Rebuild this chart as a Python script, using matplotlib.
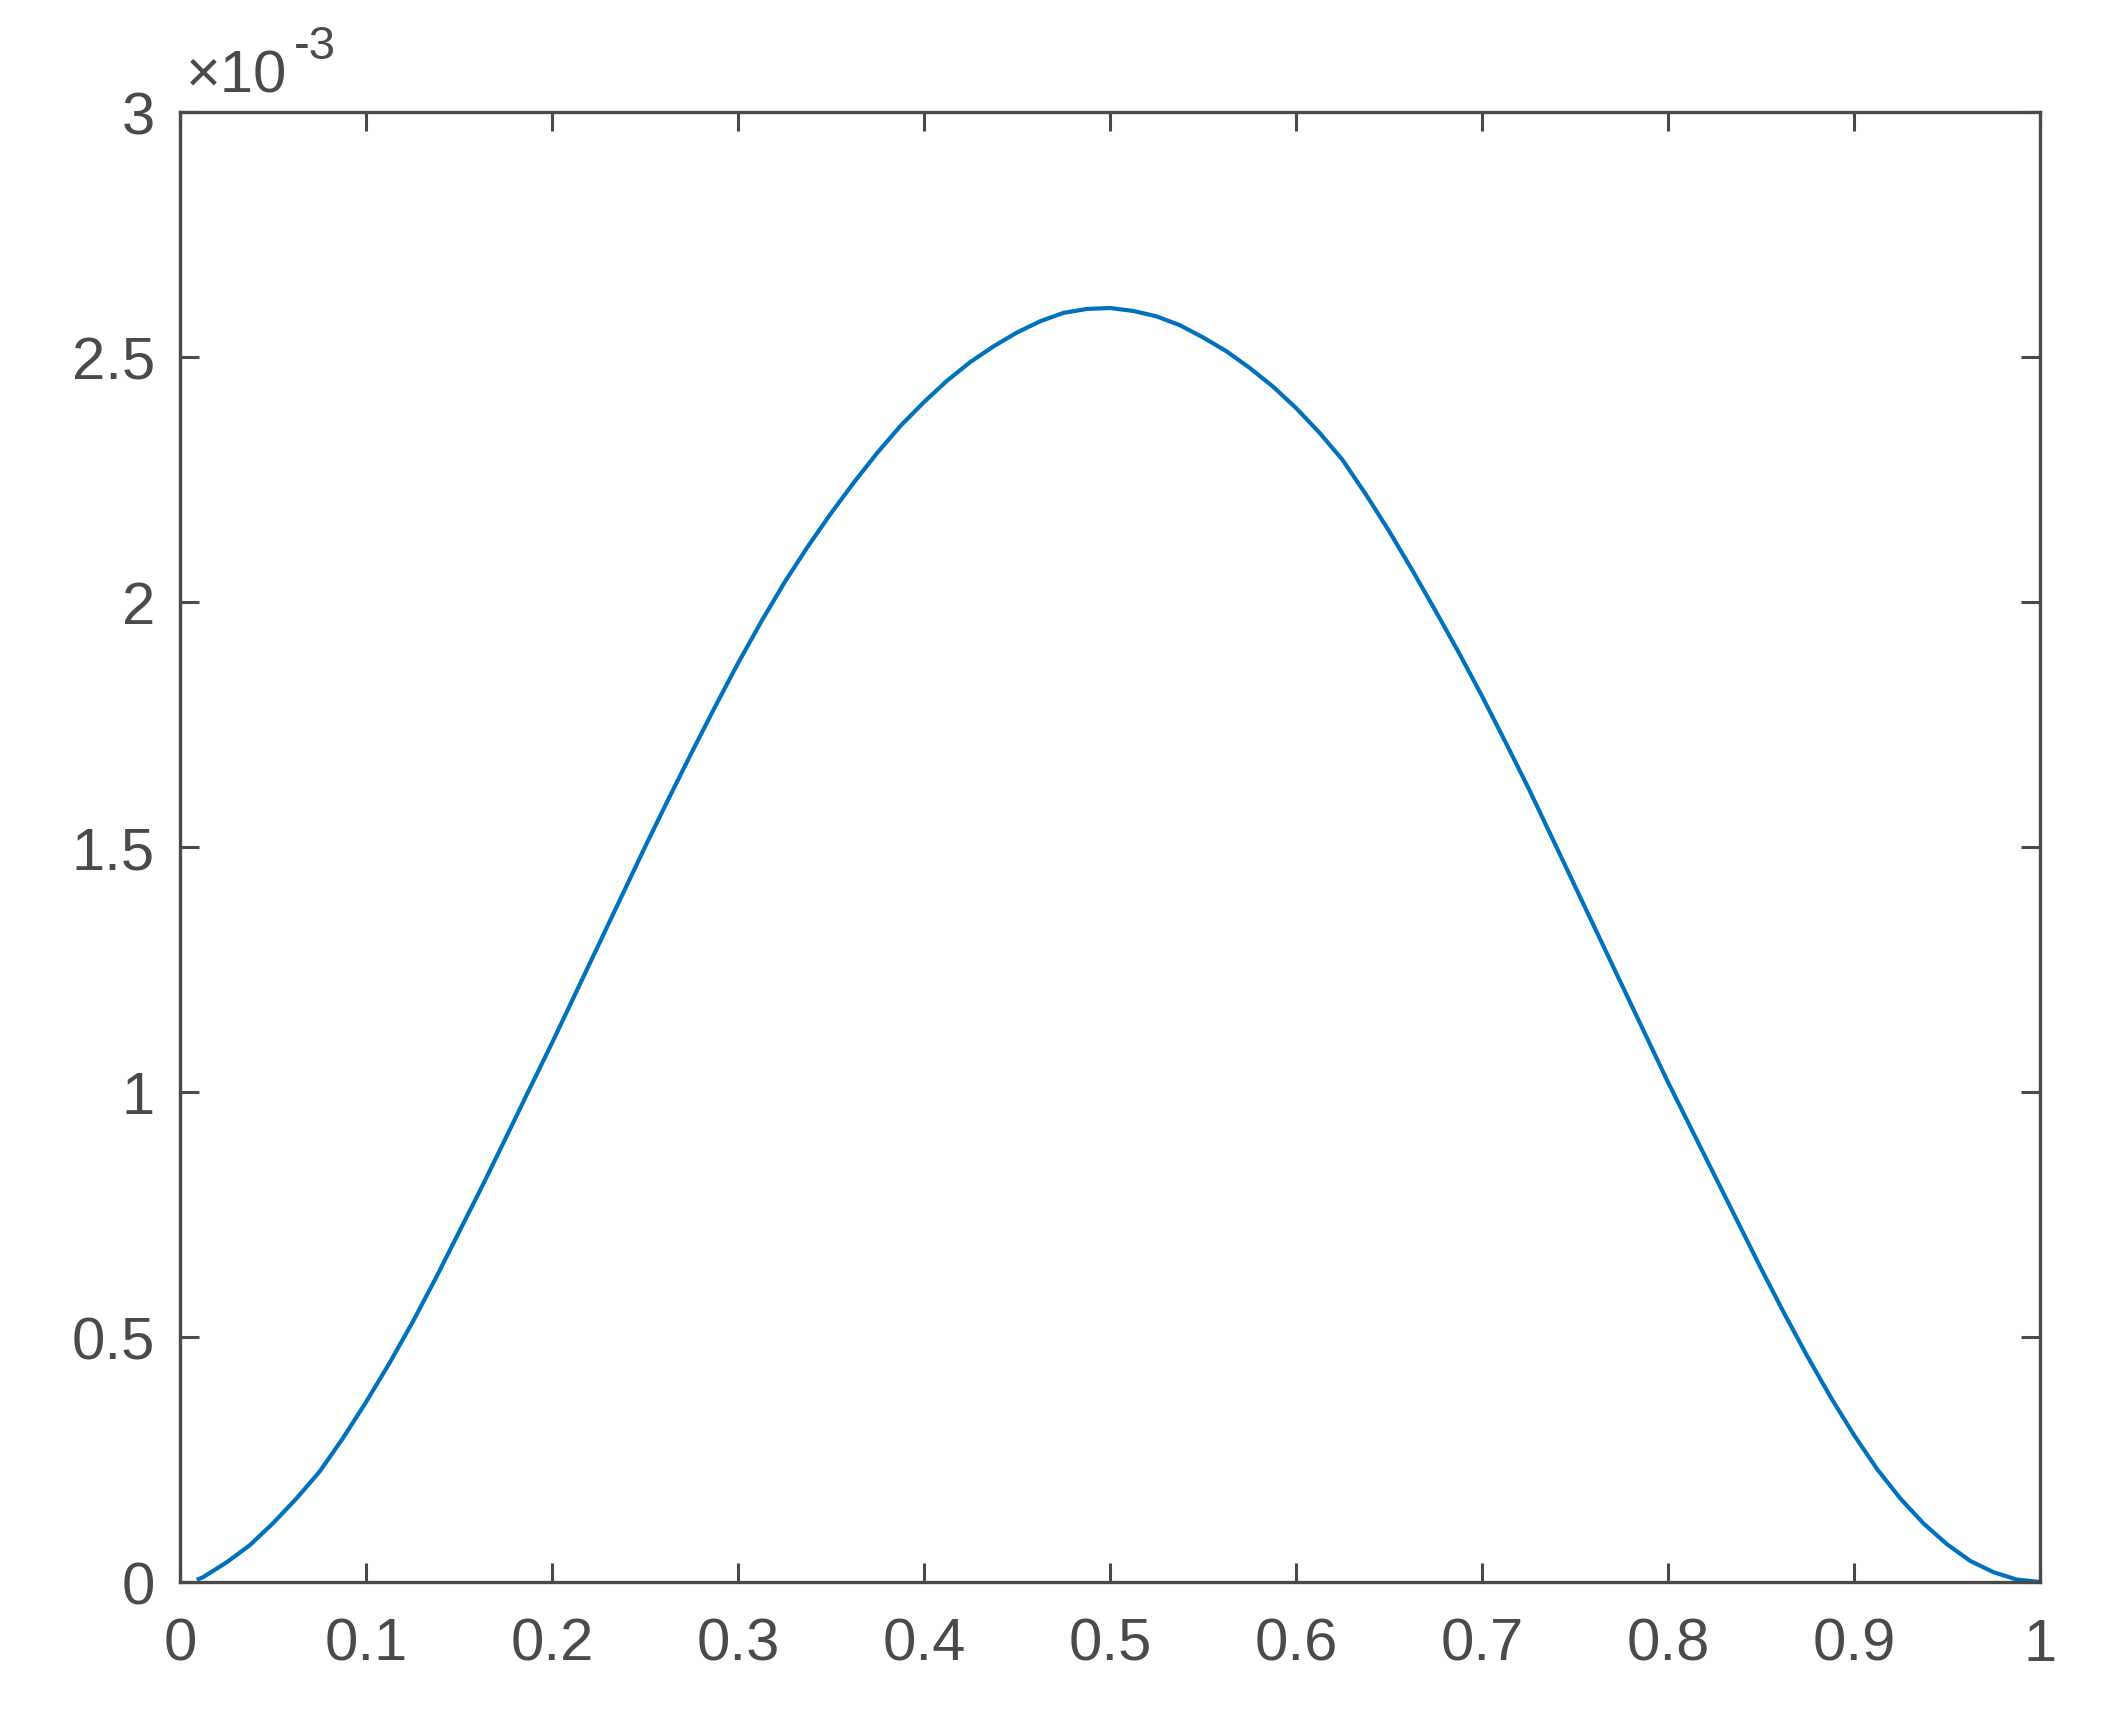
import matplotlib
matplotlib.use("Agg")
import matplotlib.pyplot as plt
from matplotlib.ticker import FuncFormatter

# values (y in units of 1e-3)
x_vals = [0.01, 0.0125, 0.025, 0.0375, 0.05, 0.0625, 0.075, 0.0875, 0.1, 0.1125,
          0.125, 0.1375, 0.15, 0.1625, 0.175, 0.1875, 0.2, 0.2125, 0.225, 0.2375,
          0.25, 0.2625, 0.275, 0.2875, 0.3, 0.3125, 0.325, 0.3375, 0.35, 0.3625,
          0.375, 0.3875, 0.4, 0.4125, 0.425, 0.4375, 0.45, 0.4625, 0.475, 0.4875,
          0.5, 0.5125, 0.525, 0.5375, 0.55, 0.5625, 0.575, 0.5875, 0.6, 0.6125,
          0.625, 0.6375, 0.65, 0.6625, 0.675, 0.6875, 0.7, 0.7125, 0.725, 0.7375,
          0.75, 0.7625, 0.775, 0.7875, 0.8, 0.8125, 0.825, 0.8375, 0.85, 0.8625,
          0.875, 0.8875, 0.9, 0.9125, 0.925, 0.9375, 0.95, 0.9625, 0.975, 0.9875,
          1.0]
y_milli = [0.006, 0.01, 0.04, 0.075, 0.12, 0.17, 0.225, 0.293, 0.367, 0.446,
           0.53, 0.62, 0.714, 0.808, 0.905, 1.003, 1.10, 1.20, 1.30, 1.40,
           1.50, 1.597, 1.692, 1.785, 1.875, 1.960, 2.040, 2.113, 2.181, 2.245,
           2.305, 2.360, 2.408, 2.452, 2.490, 2.522, 2.550, 2.573, 2.590, 2.598,
           2.60, 2.594, 2.583, 2.565, 2.54, 2.512, 2.478, 2.44, 2.396, 2.346,
           2.290, 2.220, 2.145, 2.065, 1.982, 1.897, 1.808, 1.715, 1.62, 1.52,
           1.42, 1.32, 1.22, 1.12, 1.02, 0.925, 0.83, 0.735, 0.64, 0.548,
           0.46, 0.377, 0.30, 0.23, 0.17, 0.119, 0.077, 0.043, 0.02, 0.005,
           0.0]
y_vals = [v * 1e-3 for v in y_milli]

x_ticks = [0, 0.1, 0.2, 0.3, 0.4, 0.5, 0.6, 0.7, 0.8, 0.9, 1]
y_ticks = [0, 0.5e-3, 1e-3, 1.5e-3, 2e-3, 2.5e-3, 3e-3]

grey = '#4a4a4a'
plt.rcParams['font.family'] = ['Liberation Sans', 'DejaVu Sans']

fig = plt.figure(figsize=(21.07, 17.31), dpi=100)
ax = fig.add_axes([180 / 2107, 148 / 1731, 1860 / 2107, 1470 / 1731])

ax.plot(x_vals, y_vals, color='#0072BD', lw=3, solid_joinstyle='round')

ax.set_xlim(0, 1)
ax.set_ylim(0, 3e-3)
ax.set_xticks(x_ticks)
ax.set_yticks(y_ticks)
ax.xaxis.set_major_formatter(FuncFormatter(lambda v, p: f"{v:g}"))
ax.yaxis.set_major_formatter(FuncFormatter(lambda v, p: f"{v * 1e3:g}"))

ax.tick_params(axis='both', direction='in', length=14, width=2.2, colors=grey,
               labelsize=43, top=True, right=True)
ax.tick_params(axis='x', pad=25)
ax.tick_params(axis='y', pad=18)
for s in ax.spines.values():
    s.set_color(grey)
    s.set_linewidth(2.4)

# exponent label, MATLAB style
ax.text(0.003, 1.006, "\u00d710", transform=ax.transAxes, fontsize=43,
        color=grey, ha='left', va='bottom')
ax.text(0.061, 1.03, "-3", transform=ax.transAxes, fontsize=34,
        color=grey, ha='left', va='bottom')

fig.savefig("out.png", dpi=100)
